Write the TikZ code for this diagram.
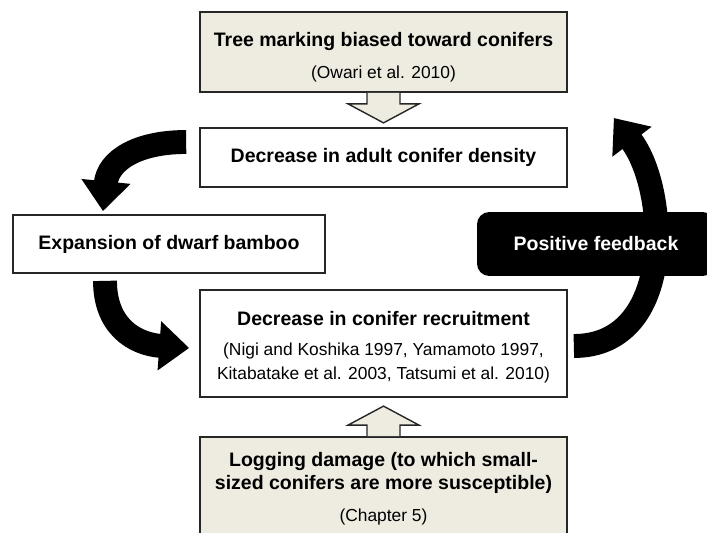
\documentclass[tikz,border=0pt]{standalone}
\usepackage{fontspec}
\setmainfont{Liberation Sans}
\usetikzlibrary{positioning,arrows.meta,calc}
\definecolor{tan}{HTML}{EEECE1}

% smaller upright type for the references
\newcommand\source[1]{{\fontsize{9.9}{12.5}\mdseries\selectfont #1}}

\begin{document}
\begin{tikzpicture}[x=0.02cm, y=-0.02cm,
  box/.style={draw=black!85, line width=1pt, minimum width=7.34cm, inner sep=0pt,
    align=center, font=\fontsize{11.1}{13.3}\bfseries\selectfont},
  shaded/.style={box, fill=tan},
  loopbox/.style={fill=black, text=white, rounded corners=7pt, minimum width=4.76cm,
    minimum height=1.28cm, font=\fontsize{11.1}{13.3}\bfseries\selectfont},
  bendarrow/.style={line width=13.6pt, -{Triangle[width=27pt,length=17pt]}},
  hollow/.style={draw=black!85, fill=tan, line width=0.8pt, line join=miter}]
\useasboundingbox (0,0) rectangle (707,533);

% Boxes
\node[shaded, minimum height=1.6cm] (marking) at (383.5,52)
  {\rule{0pt}{14pt}Tree marking biased toward conifers\\[5pt]\source{(Owari et al. 2010)}};
\node[box, minimum height=1.18cm] (density) at (383.5,157.5)
  {Decrease in adult conifer density};
\node[box, minimum width=6.24cm, minimum height=1.16cm] (bamboo) at (169,244)
  {Expansion of dwarf bamboo};
\node[box, minimum height=2.14cm] (recruit) at (383.5,343.5)
  {\rule{0pt}{12pt}Decrease in conifer recruitment\\[4pt]
   \source{(Nigi and Koshika 1997, Yamamoto 1997,}\\
   \source{Kitabatake et al. 2003, Tatsumi et al. 2010)}};
\node[shaded, minimum height=2.06cm] (logging) at (383.5,488.5)
  {Logging damage (to which small-\\sized conifers are more susceptible)\\[5pt]
   \source{(Chapter 5)}};

% Block arrows from the two outside factors
\draw[hollow] (marking.south) ++(-16.5,0) -- ++(0,11) -- ++(-19,0) -- ++(35.5,19)
  -- ++(35.5,-19) -- ++(-19,0) -- ++(0,-11);
\draw[hollow] (logging.north) ++(-16.5,0) -- ++(0,-11) -- ++(-19,0) -- ++(35.5,-19)
  -- ++(35.5,19) -- ++(-19,0) -- ++(0,11);

% Feedback loop
\draw[bendarrow] ($(density.west)+(-13,-15.5)$) .. controls +(-50,0) and +(5,-50)
  .. ($(bamboo.north)+(-66,-3)$);
\draw[bendarrow] ($(bamboo.south)+(-64,7)$) .. controls +(0,45) and +(-55,-4)
  .. ($(recruit.west)+(-10,4.5)$);
\draw[bendarrow] ($(recruit.east)+(6,2.5)$) .. controls +(102,0) and +(55,72)
  .. ($(density.east)+(46,-39.5)$);
\node[loopbox] (feedback) at (596,244) {Positive feedback};
\end{tikzpicture}
\end{document}
